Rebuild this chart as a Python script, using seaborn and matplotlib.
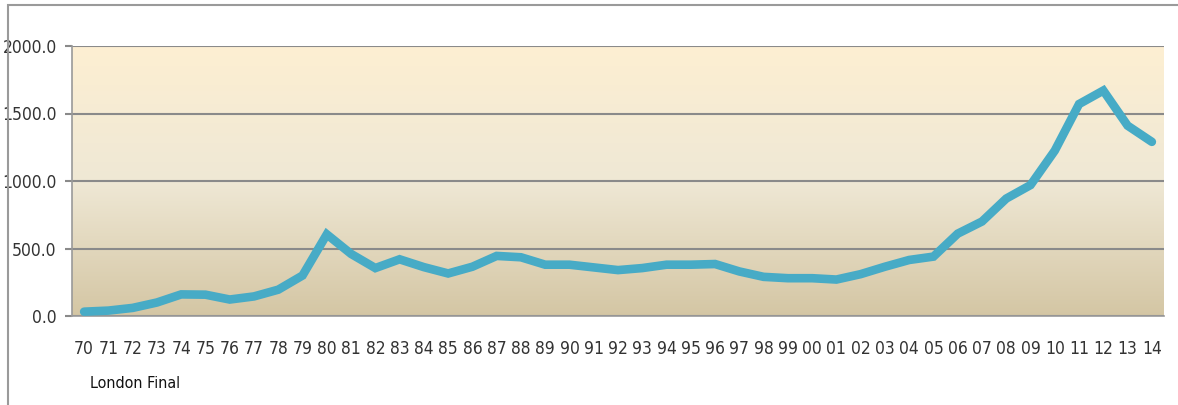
import numpy as np
import pandas as pd

import matplotlib as mpl
import matplotlib.pyplot as plt
from matplotlib.colors import LinearSegmentedColormap
from matplotlib.patches import Rectangle

import seaborn as sns

years = ["70", "71", "72", "73", "74", "75", "76", "77", "78", "79",
         "80", "81", "82", "83", "84", "85", "86", "87", "88", "89",
         "90", "91", "92", "93", "94", "95", "96", "97", "98", "99",
         "00", "01", "02", "03", "04", "05", "06", "07", "08", "09",
         "10", "11", "12", "13", "14"]
london_final = [32, 40, 60, 100, 160, 158, 122, 145, 195, 300,
                605, 460, 355, 420, 362, 315, 365, 445, 435, 380,
                380, 360, 340, 355, 380, 380, 385, 330, 290, 280,
                280, 270, 310, 365, 415, 440, 610, 700, 870, 970,
                1225, 1570, 1670, 1410, 1290]
y_ticks = [0, 500, 1000, 1500, 2000]

data = pd.DataFrame({"pos": np.arange(len(years)), "year": years, "value": london_final})

sns.set_style("white")
plt.rcParams['font.family'] = ['DejaVu Sans']
plt.rcParams['font.stretch'] = 'condensed'

fig = plt.figure(figsize=(11.78, 4.05), dpi=100)
ax = fig.add_axes([72 / 1178, 1 - 316 / 405, (1164 - 72) / 1178, (316 - 46) / 405])

# ---------------------------------------------- background gradient ---------------------------------------------- #
cmap = LinearSegmentedColormap.from_list("bg", ["#D4C6A4", "#EFE8D5", "#FDEFD2"])
grad = np.linspace(0, 1, 256).reshape(-1, 1)
ax.imshow(grad, extent=[0, 1, 0, 1], transform=ax.transAxes, aspect="auto",
          cmap=cmap, origin="lower", zorder=0)

# ---------------------------------------------- line ---------------------------------------------- #
sns.lineplot(data=data, x="pos", y="value", color="#47ABC6", linewidth=6.2,
             solid_capstyle="round", solid_joinstyle="miter", ax=ax, zorder=3)

ax.set_xlim(-0.5, len(years) - 0.5)
ax.set_ylim(0, 2000)
ax.set_xticks(np.arange(len(years)))
ax.set_xticklabels(years)
ax.set_xticks(np.arange(len(years) + 1) - 0.5, minor=True)
ax.set_yticks(y_ticks)
ax.set_yticklabels([f"{v:.1f}" for v in y_ticks])
ax.set_xlabel("")
ax.set_ylabel("")

ax.set_axisbelow(True)
ax.yaxis.grid(True, color="#8a8a8a", linewidth=1.5)
ax.xaxis.grid(False)

ax.tick_params(axis="x", which="major", length=0, pad=17, labelsize=12.5, labelcolor="#333333")
ax.tick_params(axis="x", which="minor", length=8, width=1, color="#999999", direction="out")
ax.tick_params(axis="y", which="major", length=5, width=1.5, color="#8a8a8a", pad=6,
               labelsize=12.5, labelcolor="#333333", left=True)

for side in ["top", "right"]:
    ax.spines[side].set_visible(False)
for side in ["left", "bottom"]:
    ax.spines[side].set_color("#999999")
    ax.spines[side].set_linewidth(1.2)

fig.text(90 / 1178, 1 - 383 / 405, "London Final", fontsize=11.5, color="#111111",
         va="center", ha="left")

# outer frame (only top and left edge visible)
fig.patches.append(Rectangle((8 / 1178, -0.2), 2, 1.2 - 5 / 405, transform=fig.transFigure,
                             fill=False, edgecolor="#9a9a9a", linewidth=1.5))

plt.savefig("out.png", dpi=100)
